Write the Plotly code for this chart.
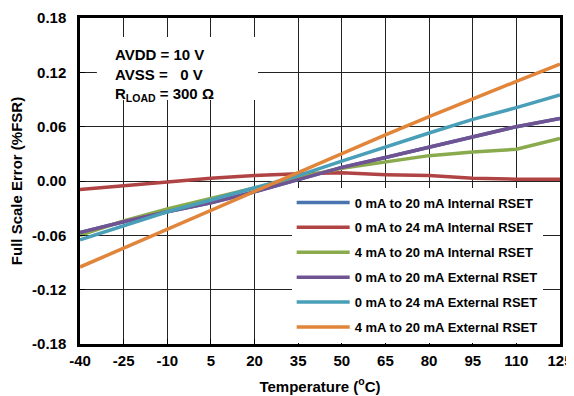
import plotly.graph_objects as go

temps = [-40, -25, -10, 5, 20, 35, 50, 65, 80, 95, 110, 125]

err_0_20_int = [-0.057, -0.045, -0.034, -0.024, -0.012, 0.001, 0.015, 0.026, 0.037, 0.049, 0.060, 0.069]
err_0_24_int = [-0.0095, -0.005, -0.001, 0.003, 0.006, 0.008, 0.009, 0.007, 0.006, 0.003, 0.002, 0.002]
err_4_20_int = [-0.060, -0.044, -0.031, -0.019, -0.008, 0.004, 0.014, 0.021, 0.028, 0.032, 0.035, 0.047]
err_0_20_ext = [-0.057, -0.045, -0.034, -0.024, -0.012, 0.001, 0.015, 0.026, 0.037, 0.049, 0.060, 0.069]
err_0_24_ext = [-0.065, -0.049, -0.034, -0.021, -0.008, 0.006, 0.022, 0.038, 0.053, 0.068, 0.081, 0.095]
err_4_20_ext = [-0.095, -0.074, -0.053, -0.032, -0.011, 0.010, 0.030, 0.051, 0.071, 0.091, 0.110, 0.129]

series = [
    ("0 mA to 20 mA Internal RSET", err_0_20_int, "#4a74b0"),
    ("0 mA to 24 mA Internal RSET", err_0_24_int, "#b04444"),
    ("4 mA to 20 mA Internal RSET", err_4_20_int, "#8aab4d"),
    ("0 mA to 20 mA External RSET", err_0_20_ext, "#6f5393"),
    ("0 mA to 24 mA External RSET", err_0_24_ext, "#4a9fb8"),
    ("4 mA to 20 mA External RSET", err_4_20_ext, "#e0853a"),
]

x_ticks = [-40, -25, -10, 5, 20, 35, 50, 65, 80, 95, 110, 125]
x_labels = ["-40", "-25", "-10", "5", "20", "35", "50", "65", "80", "95", "110", "125"]
y_ticks = [-0.18, -0.12, -0.06, 0.0, 0.06, 0.12, 0.18]
y_labels = ["-0.18", "-0.12", "-0.06", "0.00", "0.06", "0.12", "0.18"]

FONT = "Liberation Sans, Arial, sans-serif"

fig = go.Figure()
for i, (name, vals, color) in enumerate(series):
    fig.add_trace(go.Scatter(
        x=temps, y=vals, mode="lines", name=name,
        line=dict(color=color, width=3.5),
        legendgroup=f"g{i}",
    ))

# white box behind the conditions note (hides the grid)
fig.add_shape(type="rect", xref="x", yref="y", layer="between",
              x0=-34.2, x1=21.2, y0=0.0895, y1=0.159,
              fillcolor="white", line=dict(width=0))
fig.add_annotation(
    x=-28.5, y=0.151, xref="x", yref="y", xanchor="left", yanchor="top",
    text="AVDD = 10 V<br>AVSS =   0 V<br>R<sub>LOAD</sub> = 300 Ω",
    align="left", showarrow=False,
    font=dict(family=FONT, size=15, color="black", weight="bold"),
)

axis_common = dict(
    showline=True, linecolor="black", linewidth=2.5, mirror=True,
    showgrid=True, gridcolor="#222", gridwidth=1,
    ticks="inside", ticklen=5, tickcolor="black",
    zeroline=False, automargin=False,
    tickfont=dict(family=FONT, size=15, color="black", weight="bold"),
)

# the page body adds an 8 px margin, so the figure is 8 px smaller each way
fig.update_layout(
    width=566, height=388,
    margin=dict(l=72, r=14, t=10, b=52),
    paper_bgcolor="white", plot_bgcolor="white",
    xaxis=dict(range=[-40, 125], tickvals=x_ticks, ticktext=x_labels,
               ticklabelstandoff=1,
               title=dict(text="Temperature (<sup>o</sup>C)", standoff=14,
                          font=dict(family=FONT, size=15, color="black", weight="bold")),
               **axis_common),
    yaxis=dict(range=[-0.18, 0.18], tickvals=y_ticks, ticktext=y_labels,
               ticklabelstandoff=8,
               title=dict(text="Full Scale Error (%FSR)", standoff=10,
                          font=dict(family=FONT, size=15, color="black", weight="bold")),
               **axis_common),
    legend=dict(
        x=0.441, y=0.48, xanchor="left", yanchor="top",
        bgcolor="white", borderwidth=0, itemwidth=53,
        font=dict(family=FONT, size=13, color="black", weight="bold"),
        tracegroupgap=5, traceorder="grouped",
    ),
)

fig.write_html("out.html")
